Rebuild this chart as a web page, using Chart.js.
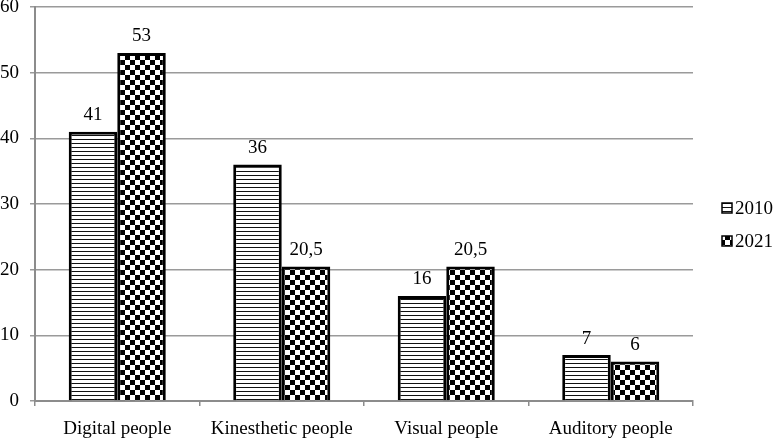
<!DOCTYPE html>
<html>
<head>
<meta charset="utf-8">
<script src="https://cdn.jsdelivr.net/npm/chart.js@4.4.0/dist/chart.umd.min.js"></script>
<style>
  html, body { margin: 0; padding: 0; background: #fff; }
  #wrap { width: 773px; height: 439px; }
</style>
</head>
<body>
<div id="wrap"><canvas id="peopleChart"></canvas></div>
<script>
const categories = ['Digital people', 'Kinesthetic people', 'Visual people', 'Auditory people'];
const series2010 = [41, 36, 16, 7];
const series2021 = [53, 20.5, 20.5, 6];
const yTicks = [0, 10, 20, 30, 40, 50, 60];

document.addEventListener('DOMContentLoaded', () => {
    const fontFamily = '"Liberation Serif", "Times New Roman", serif';
    const fontSize = 19;

    // horizontal stripes for 2010
    const makeStripes = () => {
        const c = document.createElement('canvas');
        c.width = 4; c.height = 4;
        const g = c.getContext('2d');
        g.fillStyle = '#fff';
        g.fillRect(0, 0, 4, 4);
        g.fillStyle = '#111';
        g.fillRect(0, 3, 4, 1);
        return g.createPattern(c, 'repeat');
    };

    // checkerboard for 2021
    const makeChecker = () => {
        const c = document.createElement('canvas');
        c.width = 10; c.height = 10;
        const g = c.getContext('2d');
        g.fillStyle = '#fff';
        g.fillRect(0, 0, 10, 10);
        g.fillStyle = '#000';
        g.fillRect(0, 0, 5, 5);
        g.fillRect(5, 5, 5, 5);
        return g.createPattern(c, 'repeat');
    };

    const fmt = v => String(v).replace('.', ',');

    // value labels above the bars
    const valueLabels = {
        id: 'valueLabels',
        afterDatasetsDraw(chart) {
            const ctx = chart.ctx;
            ctx.save();
            ctx.font = fontSize + 'px ' + fontFamily;
            ctx.fillStyle = '#000';
            ctx.textAlign = 'center';
            ctx.textBaseline = 'bottom';
            chart.data.datasets.forEach((ds, i) => {
                chart.getDatasetMeta(i).data.forEach((bar, j) => {
                    ctx.fillText(fmt(ds.data[j]), bar.x, bar.y - 7);
                });
            });
            ctx.restore();
        }
    };

    // legend on the right, drawn by hand so it sits where the original has it
    const sideLegend = {
        id: 'sideLegend',
        afterDraw(chart) {
            const ctx = chart.ctx;
            const rows = [208, 241];
            ctx.save();
            ctx.font = fontSize + 'px ' + fontFamily;
            ctx.textBaseline = 'middle';
            ctx.textAlign = 'left';
            chart.data.datasets.forEach((ds, i) => {
                const y = rows[i];
                ctx.fillStyle = ds.backgroundColor;
                ctx.fillRect(722, y - 5, 10, 10);
                ctx.strokeStyle = '#000';
                ctx.lineWidth = 1.5;
                ctx.strokeRect(722, y - 5, 10, 10);
                ctx.fillStyle = '#000';
                ctx.fillText(ds.label, 735, y + 1);
            });
            ctx.restore();
        }
    };

    const ctx = document.getElementById('peopleChart').getContext('2d');

    new Chart(ctx, {
        type: 'bar',
        data: {
            labels: categories,
            datasets: [{
                label: '2010',
                data: series2010,
                backgroundColor: makeStripes(),
                borderColor: '#000',
                borderWidth: 3
            }, {
                label: '2021',
                data: series2021,
                backgroundColor: makeChecker(),
                borderColor: '#000',
                borderWidth: 3
            }]
        },
        options: {
            responsive: true,
            maintainAspectRatio: false,
            animation: false,
            devicePixelRatio: 1,
            layout: { padding: { top: 0, left: 0, right: 80, bottom: 0 } },
            datasets: {
                bar: { categoryPercentage: 0.59, barPercentage: 1 }
            },
            plugins: {
                legend: { display: false },
                tooltip: { enabled: false }
            },
            scales: {
                x: {
                    grid: {
                        offset: true,
                        drawOnChartArea: false,
                        drawTicks: true,
                        tickLength: 5,
                        color: '#8c8c8c',
                        lineWidth: 1.5
                    },
                    border: { color: '#8c8c8c', width: 2 },
                    ticks: {
                        color: '#000',
                        padding: 12,
                        font: { family: fontFamily, size: fontSize }
                    },
                    afterFit(scale) {
                        scale.height = 38;
                        scale.paddingLeft = 0;
                        scale.paddingRight = 0;
                    }
                },
                y: {
                    min: 0,
                    max: 60,
                    afterBuildTicks(scale) {
                        scale.ticks = yTicks.map(v => ({ value: v }));
                    },
                    grid: {
                        color: '#9a9a9a',
                        lineWidth: 1.5,
                        tickLength: 5
                    },
                    border: { color: '#8c8c8c', width: 2 },
                    ticks: {
                        color: '#000',
                        padding: 11,
                        font: { family: fontFamily, size: fontSize }
                    },
                    afterFit(scale) {
                        scale.width = 35;
                        scale.paddingTop = 7;
                        scale.paddingBottom = 0;
                    }
                }
            }
        },
        plugins: [valueLabels, sideLegend]
    });
});
</script>
</body>
</html>
